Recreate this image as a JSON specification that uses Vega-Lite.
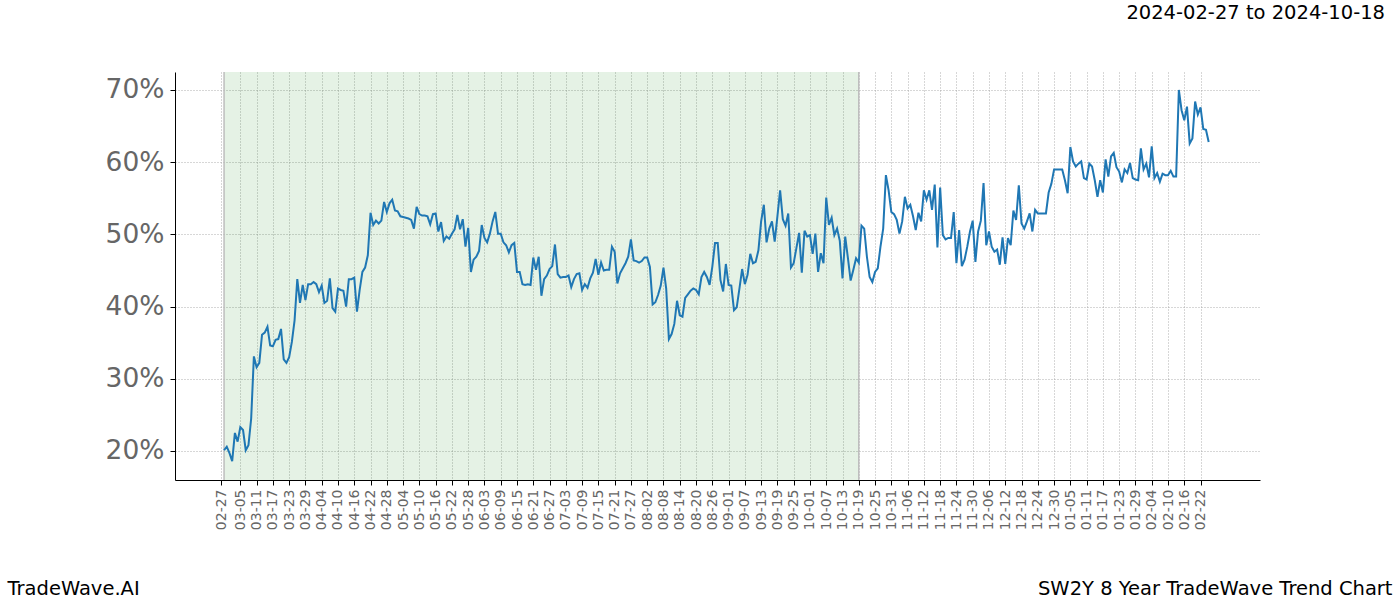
{
  "$schema": "https://vega.github.io/schema/vega-lite/v6.json",
  "width": 1085,
  "height": 408,
  "autosize": {"type": "none"},
  "padding": {"left": 175, "top": 72, "right": 140, "bottom": 120},
  "background": "white",
  "title": {"text": "2024-02-27 to 2024-10-18", "anchor": "end", "frame": "group", "orient": "top", "dx": 125, "offset": 48, "fontSize": 19.5, "font": "DejaVu Sans", "fontWeight": "normal", "color": "black"},
  "config": {"view": {"stroke": null}},
  "datasets": {
    "series": [
      {"d":"2024-02-28","v":20.1},{"d":"2024-02-29","v":20.6},{"d":"2024-03-01","v":19.7},{"d":"2024-03-02","v":18.6},{"d":"2024-03-03","v":22.5},{"d":"2024-03-04","v":21.3},{"d":"2024-03-05","v":23.3},{"d":"2024-03-06","v":22.9},{"d":"2024-03-07","v":20.1},{"d":"2024-03-08","v":20.8},{"d":"2024-03-09","v":24.5},{"d":"2024-03-10","v":33.1},{"d":"2024-03-11","v":31.6},{"d":"2024-03-12","v":32.2},{"d":"2024-03-13","v":36.1},{"d":"2024-03-14","v":36.4},{"d":"2024-03-15","v":37.2},{"d":"2024-03-16","v":34.6},{"d":"2024-03-17","v":34.5},{"d":"2024-03-18","v":35.4},{"d":"2024-03-19","v":35.5},{"d":"2024-03-20","v":36.9},{"d":"2024-03-21","v":32.7},{"d":"2024-03-22","v":32.2},{"d":"2024-03-23","v":33.0},{"d":"2024-03-24","v":35.1},{"d":"2024-03-25","v":38.1},{"d":"2024-03-26","v":43.8},{"d":"2024-03-27","v":40.5},{"d":"2024-03-28","v":43.0},{"d":"2024-03-29","v":40.9},{"d":"2024-03-30","v":43.1},{"d":"2024-03-31","v":43.1},
      {"d":"2024-04-01","v":43.4},{"d":"2024-04-02","v":43.1},{"d":"2024-04-03","v":42.0},{"d":"2024-04-04","v":42.9},{"d":"2024-04-05","v":40.5},{"d":"2024-04-06","v":40.8},{"d":"2024-04-07","v":43.9},{"d":"2024-04-08","v":39.8},{"d":"2024-04-09","v":39.3},{"d":"2024-04-10","v":42.5},{"d":"2024-04-11","v":42.3},{"d":"2024-04-12","v":42.2},{"d":"2024-04-13","v":40.0},{"d":"2024-04-14","v":43.8},{"d":"2024-04-15","v":43.8},{"d":"2024-04-16","v":44.0},{"d":"2024-04-17","v":39.3},{"d":"2024-04-18","v":42.3},{"d":"2024-04-19","v":44.8},{"d":"2024-04-20","v":45.4},{"d":"2024-04-21","v":47.1},{"d":"2024-04-22","v":53.0},{"d":"2024-04-23","v":51.3},{"d":"2024-04-24","v":51.9},{"d":"2024-04-25","v":51.5},{"d":"2024-04-26","v":51.9},{"d":"2024-04-27","v":54.5},{"d":"2024-04-28","v":53.1},{"d":"2024-04-29","v":54.3},{"d":"2024-04-30","v":54.8},
      {"d":"2024-05-01","v":53.3},{"d":"2024-05-02","v":53.2},{"d":"2024-05-03","v":52.5},{"d":"2024-05-04","v":52.4},{"d":"2024-05-05","v":52.3},{"d":"2024-05-06","v":52.2},{"d":"2024-05-07","v":52.0},{"d":"2024-05-08","v":50.8},{"d":"2024-05-09","v":53.8},{"d":"2024-05-10","v":52.8},{"d":"2024-05-11","v":52.6},{"d":"2024-05-12","v":52.6},{"d":"2024-05-13","v":52.5},{"d":"2024-05-14","v":51.4},{"d":"2024-05-15","v":52.8},{"d":"2024-05-16","v":52.9},{"d":"2024-05-17","v":50.4},{"d":"2024-05-18","v":51.7},{"d":"2024-05-19","v":49.1},{"d":"2024-05-20","v":49.7},{"d":"2024-05-21","v":49.4},{"d":"2024-05-22","v":50.1},{"d":"2024-05-23","v":50.7},{"d":"2024-05-24","v":52.7},{"d":"2024-05-25","v":50.7},{"d":"2024-05-26","v":52.1},{"d":"2024-05-27","v":48.3},{"d":"2024-05-28","v":50.9},{"d":"2024-05-29","v":44.8},{"d":"2024-05-30","v":46.5},{"d":"2024-05-31","v":46.9},
      {"d":"2024-06-01","v":47.7},{"d":"2024-06-02","v":51.3},{"d":"2024-06-03","v":49.5},{"d":"2024-06-04","v":48.9},{"d":"2024-06-05","v":50.1},{"d":"2024-06-06","v":51.8},{"d":"2024-06-07","v":53.1},{"d":"2024-06-08","v":50.1},{"d":"2024-06-09","v":50.1},{"d":"2024-06-10","v":48.9},{"d":"2024-06-11","v":48.5},{"d":"2024-06-12","v":47.5},{"d":"2024-06-13","v":48.5},{"d":"2024-06-14","v":48.8},{"d":"2024-06-15","v":44.8},{"d":"2024-06-16","v":44.8},{"d":"2024-06-17","v":43.1},{"d":"2024-06-18","v":43.0},{"d":"2024-06-19","v":43.1},{"d":"2024-06-20","v":43.0},{"d":"2024-06-21","v":46.8},{"d":"2024-06-22","v":45.1},{"d":"2024-06-23","v":46.9},{"d":"2024-06-24","v":41.5},{"d":"2024-06-25","v":43.8},{"d":"2024-06-26","v":44.3},{"d":"2024-06-27","v":45.2},{"d":"2024-06-28","v":45.6},{"d":"2024-06-29","v":48.6},{"d":"2024-06-30","v":44.5},
      {"d":"2024-07-01","v":44.0},{"d":"2024-07-02","v":44.1},{"d":"2024-07-03","v":44.1},{"d":"2024-07-04","v":44.3},{"d":"2024-07-05","v":42.7},{"d":"2024-07-06","v":43.8},{"d":"2024-07-07","v":44.5},{"d":"2024-07-08","v":44.6},{"d":"2024-07-09","v":42.3},{"d":"2024-07-10","v":43.1},{"d":"2024-07-11","v":42.6},{"d":"2024-07-12","v":43.9},{"d":"2024-07-13","v":44.7},{"d":"2024-07-14","v":46.6},{"d":"2024-07-15","v":44.4},{"d":"2024-07-16","v":46.1},{"d":"2024-07-17","v":45.0},{"d":"2024-07-18","v":45.1},{"d":"2024-07-19","v":45.1},{"d":"2024-07-20","v":48.3},{"d":"2024-07-21","v":47.6},{"d":"2024-07-22","v":43.2},{"d":"2024-07-23","v":44.6},{"d":"2024-07-24","v":45.3},{"d":"2024-07-25","v":46.0},{"d":"2024-07-26","v":46.9},{"d":"2024-07-27","v":49.3},{"d":"2024-07-28","v":46.4},{"d":"2024-07-29","v":46.3},{"d":"2024-07-30","v":46.1},{"d":"2024-07-31","v":46.3},
      {"d":"2024-08-01","v":46.8},{"d":"2024-08-02","v":46.8},{"d":"2024-08-03","v":45.5},{"d":"2024-08-04","v":40.3},{"d":"2024-08-05","v":40.6},{"d":"2024-08-06","v":41.6},{"d":"2024-08-07","v":42.9},{"d":"2024-08-08","v":45.4},{"d":"2024-08-09","v":42.5},{"d":"2024-08-10","v":35.5},{"d":"2024-08-11","v":36.2},{"d":"2024-08-12","v":37.6},{"d":"2024-08-13","v":40.8},{"d":"2024-08-14","v":38.8},{"d":"2024-08-15","v":38.6},{"d":"2024-08-16","v":41.2},{"d":"2024-08-17","v":41.7},{"d":"2024-08-18","v":42.2},{"d":"2024-08-19","v":42.5},{"d":"2024-08-20","v":42.3},{"d":"2024-08-21","v":41.7},{"d":"2024-08-22","v":44.1},{"d":"2024-08-23","v":44.8},{"d":"2024-08-24","v":44.1},{"d":"2024-08-25","v":43.0},{"d":"2024-08-26","v":45.5},{"d":"2024-08-27","v":48.8},{"d":"2024-08-28","v":48.8},{"d":"2024-08-29","v":43.7},{"d":"2024-08-30","v":42.1},{"d":"2024-08-31","v":45.9},
      {"d":"2024-09-01","v":43.0},{"d":"2024-09-02","v":42.9},{"d":"2024-09-03","v":39.5},{"d":"2024-09-04","v":39.9},{"d":"2024-09-05","v":42.5},{"d":"2024-09-06","v":45.2},{"d":"2024-09-07","v":43.1},{"d":"2024-09-08","v":44.4},{"d":"2024-09-09","v":47.3},{"d":"2024-09-10","v":46.0},{"d":"2024-09-11","v":46.2},{"d":"2024-09-12","v":47.8},{"d":"2024-09-13","v":51.8},{"d":"2024-09-14","v":54.1},{"d":"2024-09-15","v":48.9},{"d":"2024-09-16","v":50.8},{"d":"2024-09-17","v":51.8},{"d":"2024-09-18","v":49.0},{"d":"2024-09-19","v":52.5},{"d":"2024-09-20","v":56.1},{"d":"2024-09-21","v":52.1},{"d":"2024-09-22","v":51.2},{"d":"2024-09-23","v":52.9},{"d":"2024-09-24","v":45.4},{"d":"2024-09-25","v":46.0},{"d":"2024-09-26","v":48.1},{"d":"2024-09-27","v":50.2},{"d":"2024-09-28","v":44.7},{"d":"2024-09-29","v":50.5},{"d":"2024-09-30","v":49.7},
      {"d":"2024-10-01","v":49.9},{"d":"2024-10-02","v":47.3},{"d":"2024-10-03","v":50.1},{"d":"2024-10-04","v":44.8},{"d":"2024-10-05","v":47.4},{"d":"2024-10-06","v":46.0},{"d":"2024-10-07","v":55.1},{"d":"2024-10-08","v":51.3},{"d":"2024-10-09","v":52.3},{"d":"2024-10-10","v":49.9},{"d":"2024-10-11","v":50.8},{"d":"2024-10-12","v":49.1},{"d":"2024-10-13","v":43.9},{"d":"2024-10-14","v":49.7},{"d":"2024-10-15","v":46.7},{"d":"2024-10-16","v":43.6},{"d":"2024-10-17","v":45.1},{"d":"2024-10-18","v":46.7},{"d":"2024-10-19","v":46.1},{"d":"2024-10-20","v":51.2},{"d":"2024-10-21","v":50.8},{"d":"2024-10-22","v":46.9},{"d":"2024-10-23","v":44.1},{"d":"2024-10-24","v":43.4},{"d":"2024-10-25","v":44.8},{"d":"2024-10-26","v":45.3},{"d":"2024-10-27","v":48.3},{"d":"2024-10-28","v":50.8},{"d":"2024-10-29","v":58.2},{"d":"2024-10-30","v":56.1},{"d":"2024-10-31","v":53.1},
      {"d":"2024-11-01","v":52.8},{"d":"2024-11-02","v":52.0},{"d":"2024-11-03","v":50.1},{"d":"2024-11-04","v":51.8},{"d":"2024-11-05","v":55.2},{"d":"2024-11-06","v":53.6},{"d":"2024-11-07","v":54.1},{"d":"2024-11-08","v":52.5},{"d":"2024-11-09","v":50.6},{"d":"2024-11-10","v":53.0},{"d":"2024-11-11","v":51.8},{"d":"2024-11-12","v":56.1},{"d":"2024-11-13","v":54.8},{"d":"2024-11-14","v":56.1},{"d":"2024-11-15","v":53.4},{"d":"2024-11-16","v":56.9},{"d":"2024-11-17","v":48.2},{"d":"2024-11-18","v":56.5},{"d":"2024-11-19","v":49.9},{"d":"2024-11-20","v":49.3},{"d":"2024-11-21","v":49.5},{"d":"2024-11-22","v":49.5},{"d":"2024-11-23","v":53.1},{"d":"2024-11-24","v":46.0},{"d":"2024-11-25","v":50.6},{"d":"2024-11-26","v":45.6},{"d":"2024-11-27","v":46.5},{"d":"2024-11-28","v":48.3},{"d":"2024-11-29","v":50.4},{"d":"2024-11-30","v":51.9},
      {"d":"2024-12-01","v":46.2},{"d":"2024-12-02","v":50.4},{"d":"2024-12-03","v":51.9},{"d":"2024-12-04","v":57.1},{"d":"2024-12-05","v":48.5},{"d":"2024-12-06","v":50.4},{"d":"2024-12-07","v":48.3},{"d":"2024-12-08","v":47.6},{"d":"2024-12-09","v":47.9},{"d":"2024-12-10","v":45.8},{"d":"2024-12-11","v":49.6},{"d":"2024-12-12","v":45.9},{"d":"2024-12-13","v":49.5},{"d":"2024-12-14","v":48.5},{"d":"2024-12-15","v":53.3},{"d":"2024-12-16","v":52.0},{"d":"2024-12-17","v":56.8},{"d":"2024-12-18","v":51.5},{"d":"2024-12-19","v":50.8},{"d":"2024-12-20","v":51.8},{"d":"2024-12-21","v":52.9},{"d":"2024-12-22","v":50.4},{"d":"2024-12-23","v":53.4},{"d":"2024-12-24","v":52.9},{"d":"2024-12-25","v":52.9},{"d":"2024-12-26","v":52.9},{"d":"2024-12-27","v":52.9},{"d":"2024-12-28","v":55.8},{"d":"2024-12-29","v":57.0},{"d":"2024-12-30","v":59.0},{"d":"2024-12-31","v":59.0},
      {"d":"2025-01-01","v":59.0},{"d":"2025-01-02","v":59.0},{"d":"2025-01-03","v":57.5},{"d":"2025-01-04","v":55.7},{"d":"2025-01-05","v":62.1},{"d":"2025-01-06","v":60.1},{"d":"2025-01-07","v":59.4},{"d":"2025-01-08","v":59.8},{"d":"2025-01-09","v":60.1},{"d":"2025-01-10","v":57.8},{"d":"2025-01-11","v":57.6},{"d":"2025-01-12","v":59.8},{"d":"2025-01-13","v":59.4},{"d":"2025-01-14","v":57.5},{"d":"2025-01-15","v":55.2},{"d":"2025-01-16","v":57.5},{"d":"2025-01-17","v":55.8},{"d":"2025-01-18","v":60.4},{"d":"2025-01-19","v":58.0},{"d":"2025-01-20","v":60.8},{"d":"2025-01-21","v":61.3},{"d":"2025-01-22","v":59.3},{"d":"2025-01-23","v":58.7},{"d":"2025-01-24","v":57.2},{"d":"2025-01-25","v":59.0},{"d":"2025-01-26","v":58.5},{"d":"2025-01-27","v":59.9},{"d":"2025-01-28","v":57.8},{"d":"2025-01-29","v":57.6},{"d":"2025-01-30","v":57.5},{"d":"2025-01-31","v":61.9},
      {"d":"2025-02-01","v":59.0},{"d":"2025-02-02","v":59.8},{"d":"2025-02-03","v":57.9},{"d":"2025-02-04","v":62.2},{"d":"2025-02-05","v":57.8},{"d":"2025-02-06","v":58.5},{"d":"2025-02-07","v":57.3},{"d":"2025-02-08","v":58.4},{"d":"2025-02-09","v":58.2},{"d":"2025-02-10","v":58.2},{"d":"2025-02-11","v":58.8},{"d":"2025-02-12","v":58.0},{"d":"2025-02-13","v":58.0},{"d":"2025-02-14","v":70.0},{"d":"2025-02-15","v":67.2},{"d":"2025-02-16","v":65.8},{"d":"2025-02-17","v":67.7},{"d":"2025-02-18","v":62.6},{"d":"2025-02-19","v":63.3},{"d":"2025-02-20","v":68.4},{"d":"2025-02-21","v":66.6},{"d":"2025-02-22","v":67.6},{"d":"2025-02-23","v":64.6},{"d":"2025-02-24","v":64.5},{"d":"2025-02-25","v":62.8}
    ],
    "span": [{"s": "2024-02-28", "e": "2024-10-19"}]
  },
  "layer": [
    {
      "data": {"name": "span"},
      "mark": {"type": "rect", "fill": "#008000", "fillOpacity": 0.1, "strokeWidth": 0},
      "encoding": {
        "x": {"field": "s", "type": "temporal"},
        "x2": {"field": "e"}
      }
    },
    {
      "data": {"name": "span"},
      "mark": {"type": "rule", "color": "#bdbdbd", "strokeWidth": 1.5},
      "encoding": {"x": {"field": "s", "type": "temporal"}}
    },
    {
      "data": {"name": "span"},
      "mark": {"type": "rule", "color": "#bdbdbd", "strokeWidth": 1.5},
      "encoding": {"x": {"field": "e", "type": "temporal"}}
    },
    {
      "data": {"name": "series"},
      "mark": {"type": "line", "color": "#1f77b4", "strokeWidth": 2, "interpolate": "linear"},
      "encoding": {
        "x": {
          "field": "d", "type": "temporal",
          "scale": {"type": "utc", "domain": [{"year": 2024, "month": 2, "date": 9, "hours": 22, "utc": true}, {"year": 2025, "month": 3, "date": 15, "hours": 22, "utc": true}]},
          "axis": {
            "values": [
              {"year":2024,"month":2,"date":27,"utc":true},{"year":2024,"month":3,"date":5,"utc":true},{"year":2024,"month":3,"date":11,"utc":true},{"year":2024,"month":3,"date":17,"utc":true},{"year":2024,"month":3,"date":23,"utc":true},{"year":2024,"month":3,"date":29,"utc":true},{"year":2024,"month":4,"date":4,"utc":true},{"year":2024,"month":4,"date":10,"utc":true},{"year":2024,"month":4,"date":16,"utc":true},{"year":2024,"month":4,"date":22,"utc":true},{"year":2024,"month":4,"date":28,"utc":true},{"year":2024,"month":5,"date":4,"utc":true},{"year":2024,"month":5,"date":10,"utc":true},{"year":2024,"month":5,"date":16,"utc":true},{"year":2024,"month":5,"date":22,"utc":true},{"year":2024,"month":5,"date":28,"utc":true},{"year":2024,"month":6,"date":3,"utc":true},{"year":2024,"month":6,"date":9,"utc":true},{"year":2024,"month":6,"date":15,"utc":true},{"year":2024,"month":6,"date":21,"utc":true},{"year":2024,"month":6,"date":27,"utc":true},{"year":2024,"month":7,"date":3,"utc":true},{"year":2024,"month":7,"date":9,"utc":true},{"year":2024,"month":7,"date":15,"utc":true},{"year":2024,"month":7,"date":21,"utc":true},{"year":2024,"month":7,"date":27,"utc":true},{"year":2024,"month":8,"date":2,"utc":true},{"year":2024,"month":8,"date":8,"utc":true},{"year":2024,"month":8,"date":14,"utc":true},{"year":2024,"month":8,"date":20,"utc":true},{"year":2024,"month":8,"date":26,"utc":true},{"year":2024,"month":9,"date":1,"utc":true},{"year":2024,"month":9,"date":7,"utc":true},{"year":2024,"month":9,"date":13,"utc":true},{"year":2024,"month":9,"date":19,"utc":true},{"year":2024,"month":9,"date":25,"utc":true},{"year":2024,"month":10,"date":1,"utc":true},{"year":2024,"month":10,"date":7,"utc":true},{"year":2024,"month":10,"date":13,"utc":true},{"year":2024,"month":10,"date":19,"utc":true},{"year":2024,"month":10,"date":25,"utc":true},{"year":2024,"month":10,"date":31,"utc":true},{"year":2024,"month":11,"date":6,"utc":true},{"year":2024,"month":11,"date":12,"utc":true},{"year":2024,"month":11,"date":18,"utc":true},{"year":2024,"month":11,"date":24,"utc":true},{"year":2024,"month":11,"date":30,"utc":true},{"year":2024,"month":12,"date":6,"utc":true},{"year":2024,"month":12,"date":12,"utc":true},{"year":2024,"month":12,"date":18,"utc":true},{"year":2024,"month":12,"date":24,"utc":true},{"year":2024,"month":12,"date":30,"utc":true},{"year":2025,"month":1,"date":5,"utc":true},{"year":2025,"month":1,"date":11,"utc":true},{"year":2025,"month":1,"date":17,"utc":true},{"year":2025,"month":1,"date":23,"utc":true},{"year":2025,"month":1,"date":29,"utc":true},{"year":2025,"month":2,"date":4,"utc":true},{"year":2025,"month":2,"date":10,"utc":true},{"year":2025,"month":2,"date":16,"utc":true},{"year":2025,"month":2,"date":22,"utc":true}
            ],
            "tickCount": 200,
            "format": "%m-%d",
            "labelAngle": -90,
            "labelFont": "DejaVu Sans",
            "labelFontSize": 14,
            "labelColor": "#666666",
            "labelPadding": 4,
            "labelOverlap": false,
            "labelFlush": false,
            "labelBound": false,
            "domainColor": "black",
            "domainWidth": 1,
            "tickColor": "black",
            "tickSize": 5,
            "grid": true,
            "gridColor": "#999999",
            "gridDash": [1, 2],
            "gridWidth": 0.8,
            "title": "TradeWave.AI",
            "titleX": -168,
            "titleY": 108,
            "titleAlign": "left",
            "titleBaseline": "middle",
            "titleAngle": 0,
            "titleFont": "DejaVu Sans",
            "titleFontSize": 19.5,
            "titleFontWeight": "normal",
            "titleColor": "black"
          }
        },
        "y": {
          "field": "v", "type": "quantitative",
          "scale": {"domain": [15.98, 72.49], "nice": false, "zero": false},
          "axis": {
            "values": [20, 30, 40, 50, 60, 70],
            "labelExpr": "datum.value + '%'",
            "labelFont": "DejaVu Sans",
            "labelFontSize": 26.5,
            "labelColor": "#666666",
            "labelPadding": 6,
            "domainColor": "black",
            "domainWidth": 1,
            "tickColor": "black",
            "tickSize": 5,
            "grid": true,
            "gridColor": "#999999",
            "gridDash": [1, 2],
            "gridWidth": 0.8,
            "title": "SW2Y 8 Year TradeWave Trend Chart",
            "titleAngle": 0,
            "titleX": 1217,
            "titleY": 516,
            "titleAlign": "right",
            "titleBaseline": "middle",
            "titleFont": "DejaVu Sans",
            "titleFontSize": 19.5,
            "titleFontWeight": "normal",
            "titleColor": "black"
          }
        }
      }
    }
  ]
}
